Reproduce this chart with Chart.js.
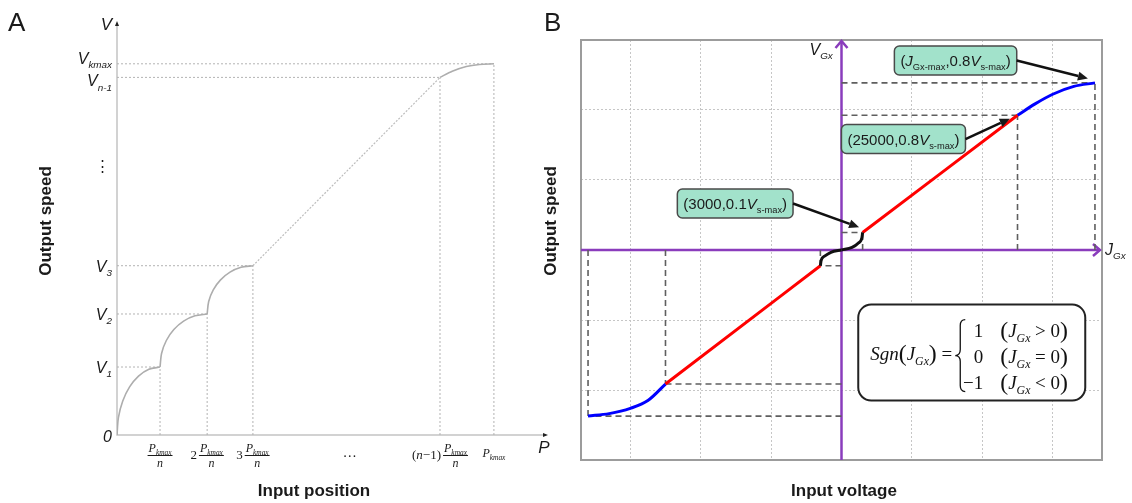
<!DOCTYPE html>
<html>
<head>
<meta charset="utf-8">
<script src="https://cdn.jsdelivr.net/npm/chart.js@4.4.1/dist/chart.umd.min.js"></script>
<style>
  body { margin: 0; background: #fff; width: 1132px; height: 503px; overflow: hidden; position: relative; }
  canvas { position: absolute; top: 0; }
  #chartA { left: 0; }
  #chartB { left: 530px; }
</style>
</head>
<body>
<canvas id="chartA" width="570" height="503"></canvas>
<canvas id="chartB" width="602" height="503"></canvas>
<script>
// ---- Panel A: x in units of P_kmax/n, y in units of V1 ----
const posTicks = [0.95, 1.99, 3, 7.13, 8.32];
const posPrefix = ['', '2', '3', '(n−1)', ''];
const speedTicks = [1, 1.78, 2.49, 5.26, 5.46];
const speedSubs = ['1', '2', '3', 'n-1', 'kmax'];
const arc1X = [0, 0.032, 0.127, 0.278, 0.475, 0.704, 0.95];
const arc1Y = [0, 0.259, 0.5, 0.707, 0.866, 0.966, 1];
const arc2X = [0.95, 0.985, 1.089, 1.255, 1.47, 1.721, 1.99];
const arc2Y = [1, 1.202, 1.39, 1.551, 1.675, 1.753, 1.78];
const arc3X = [1.99, 2.024, 2.125, 2.286, 2.495, 2.738, 3];
const arc3Y = [1.78, 1.964, 2.135, 2.282, 2.395, 2.466, 2.49];
const rampX = [3, 7.13];
const rampY = [2.49, 5.26];
const topArcX = [7.13, 7.4, 7.71, 8.0, 8.32];
const topArcY = [5.26, 5.35, 5.42, 5.45, 5.46];

// ---- Panel B: x = input voltage J_Gx, y = output speed (fraction of V_s-max) ----
const voltGrid = [-30000, -20000, -10000, 0, 10000, 20000, 30000];
const speedGrid = [-0.8, -0.4, 0, 0.4, 0.8];
const negBlueX = [-36000, -33000, -30000, -27500, -25000];
const negBlueY = [-0.949, -0.935, -0.905, -0.86, -0.766];
const negRedX = [-25000, -3000];
const negRedY = [-0.766, -0.09];
const negBlackX = [-3000, -2900, -2400, -1500, 0];
const negBlackY = [-0.09, -0.06, -0.035, -0.013, 0];
const posBlackX = [0, 1500, 2400, 2900, 3000];
const posBlackY = [0, 0.015, 0.04, 0.07, 0.1];
const posRedX = [3000, 25000];
const posRedY = [0.1, 0.77];
const posBlueX = [25000, 27500, 30000, 33000, 36000];
const posBlueY = [0.77, 0.835, 0.89, 0.935, 0.955];
const guideVolt = [-36000, -25000, -3000, 3000, 25000, 36000];
const guideSpeed = [-0.949, -0.766, -0.09, 0.1, 0.77, 0.955];

const SANS = '"Liberation Sans", Arial, sans-serif';
const SERIF = '"Liberation Serif", "Times New Roman", serif';
const PURPLE = '#8a3cbc';

const pts = (xs, ys) => xs.map((v, i) => ({ x: v, y: ys[i] }));

// kind flags: i = italic, s = subscript, b = big
function richFont(kind, size, family) {
  let s = size;
  if (kind.includes('s')) s = size * 0.62;
  if (kind.includes('b')) s = size * 1.25;
  return (kind.includes('i') ? 'italic ' : '') + s.toFixed(1) + 'px ' + family;
}
function richWidth(ctx, parts, size, family) {
  let w = 0;
  parts.forEach(([t, k]) => { ctx.font = richFont(k, size, family); w += ctx.measureText(t).width; });
  return w;
}
function drawRich(ctx, parts, x, y, size, family, align) {
  const w = richWidth(ctx, parts, size, family);
  let cx = align === 'right' ? x - w : align === 'center' ? x - w / 2 : x;
  ctx.textAlign = 'left';
  ctx.textBaseline = 'alphabetic';
  parts.forEach(([t, k]) => {
    ctx.font = richFont(k, size, family);
    ctx.fillText(t, cx, k.includes('s') ? y + size * 0.28 : (k.includes('b') ? y + size * 0.08 : y));
    cx += ctx.measureText(t).width;
  });
  return w;
}
function drawTitle(ctx, text, x, y, rotate) {
  ctx.save();
  ctx.translate(x, y);
  if (rotate) ctx.rotate(-Math.PI / 2);
  ctx.font = 'bold 17px ' + SANS;
  ctx.fillStyle = '#1a1a1a';
  ctx.textAlign = 'center';
  ctx.textBaseline = 'middle';
  ctx.fillText(text, 0, 0);
  ctx.restore();
}

// x label of panel A: optional prefix, then P_kmax / n
function drawPosLabel(ctx, cx, prefix, frac) {
  const num = [['P', 'i'], ['kmax', 'is']];
  const numW = richWidth(ctx, num, 12, SERIF);
  if (!frac) { drawRich(ctx, num, cx, 457, 12, SERIF, 'center'); return; }
  const preParts = prefix === '(n−1)' ? [['(', 'n'], ['n', 'i'], ['−1', 'n'], [')', 'n']] : [[prefix, 'n']];
  const preW = prefix ? richWidth(ctx, preParts, 13, SERIF) + 2 : 0;
  const total = preW + numW + 2;
  const left = cx - total / 2;
  if (prefix) drawRich(ctx, preParts, left, 459, 13, SERIF, 'left');
  const fl = left + preW;
  drawRich(ctx, num, fl + 1, 452, 12, SERIF, 'left');
  ctx.fillRect(fl, 455, numW + 2, 1);
  ctx.font = 'italic 12px ' + SERIF;
  ctx.textAlign = 'center';
  ctx.fillText('n', fl + (numW + 2) / 2, 467);
}

const panelADecor = {
  id: 'panelADecor',
  beforeDatasetsDraw(chart) {
    const { ctx, chartArea: a } = chart;
    ctx.save();
    ctx.strokeStyle = '#c4c4c4';
    ctx.lineWidth = 1.5;
    ctx.beginPath();
    ctx.moveTo(a.left, a.top);
    ctx.lineTo(a.left, a.bottom);
    ctx.lineTo(a.right, a.bottom);
    ctx.stroke();
    ctx.fillStyle = '#222';
    ctx.beginPath(); ctx.moveTo(a.left, a.top - 2); ctx.lineTo(a.left - 2, a.top + 3); ctx.lineTo(a.left + 2, a.top + 3); ctx.fill();
    ctx.beginPath(); ctx.moveTo(a.right + 2, a.bottom); ctx.lineTo(a.right - 3, a.bottom - 2); ctx.lineTo(a.right - 3, a.bottom + 2); ctx.fill();
    ctx.restore();
  },
  afterDraw(chart) {
    const { ctx, chartArea: a, scales: { x, y } } = chart;
    ctx.save();
    ctx.fillStyle = '#1a1a1a';
    // y tick labels (V_kmax and V_n-1 are nudged apart as in the figure)
    const nudge = [0, 0, 0, 3, -6];
    speedTicks.forEach((v, i) => {
      drawRich(ctx, [['V', 'i'], [speedSubs[i], 'is']], 112, y.getPixelForValue(v) + 6 + nudge[i], 16, SANS, 'right');
    });
    drawRich(ctx, [['0', 'i']], 112, a.bottom + 7, 16, SANS, 'right');
    drawRich(ctx, [['V', 'i']], 112, a.top + 7, 17, SANS, 'right');
    ctx.font = '15px ' + SANS;
    ctx.textAlign = 'center';
    ctx.fillText('⋮', 102, y.getPixelForValue(3.97) + 6);
    // x tick labels
    posTicks.forEach((v, i) => drawPosLabel(ctx, x.getPixelForValue(v), posPrefix[i], i < 4));
    ctx.font = '14px ' + SERIF;
    ctx.textAlign = 'center';
    ctx.fillText('…', x.getPixelForValue(5.14), 457);
    drawRich(ctx, [['P', 'i']], a.right - 2, a.bottom + 18, 17, SANS, 'center');
    // titles
    ctx.font = '26px ' + SANS;
    ctx.textAlign = 'left';
    ctx.fillText('A', 8, 31);
    drawTitle(ctx, 'Output speed', 46, 221, true);
    drawTitle(ctx, 'Input position', 314, 491, false);
    ctx.restore();
  }
};

const curveA = (xs, ys) => ({ data: pts(xs, ys), showLine: true, pointRadius: 0, borderColor: '#adadad', borderWidth: 1.6, tension: 0.3 });
const guidesA = [];
posTicks.forEach((p, i) => {
  const s = speedTicks[i];
  guidesA.push({ data: [{ x: 0, y: s }, { x: p, y: s }] });
  guidesA.push({ data: [{ x: p, y: 0 }, { x: p, y: s }] });
});

new Chart(document.getElementById('chartA'), {
  type: 'scatter',
  data: {
    datasets: [
      curveA(arc1X, arc1Y), curveA(arc2X, arc2Y), curveA(arc3X, arc3Y), curveA(topArcX, topArcY),
      { data: pts(rampX, rampY), showLine: true, pointRadius: 0, borderColor: '#bdbdbd', borderWidth: 1.2, borderDash: [2, 1.5] },
      ...guidesA.map(g => ({ ...g, showLine: true, pointRadius: 0, borderColor: '#b3b3b3', borderWidth: 1, borderDash: [2, 2] }))
    ]
  },
  options: {
    responsive: false,
    animation: false,
    events: [],
    layout: { padding: { left: 117, right: 24, top: 23, bottom: 68 } },
    plugins: { legend: { display: false }, tooltip: { enabled: false } },
    scales: {
      x: { type: 'linear', min: 0, max: 9.47, display: false },
      y: { type: 'linear', min: 0, max: 6.06, display: false }
    }
  },
  plugins: [panelADecor]
});

// ---- Panel B ----
const callouts = [
  { parts: [['(', 'n'], ['J', 'i'], ['Gx-max', 's'], [',0.8', 'n'], ['V', 'i'], ['s-max', 's'], [')', 'n']], cx: 16200, cy: 1.083, tipX: 35000, tipY: 0.98 },
  { parts: [['(25000,0.8', 'n'], ['V', 'i'], ['s-max', 's'], [')', 'n']], cx: 8800, cy: 0.634, tipX: 23900, tipY: 0.75 },
  { parts: [['(3000,0.1', 'n'], ['V', 'i'], ['s-max', 's'], [')', 'n']], cx: -15100, cy: 0.266, tipX: 2500, tipY: 0.13 }
];
const formulaRows = [['1', '>'], ['0', '='], ['−1', '<']];

function roundRect(ctx, l, t, w, h, r) {
  ctx.beginPath();
  ctx.moveTo(l + r, t);
  ctx.arcTo(l + w, t, l + w, t + h, r);
  ctx.arcTo(l + w, t + h, l, t + h, r);
  ctx.arcTo(l, t + h, l, t, r);
  ctx.arcTo(l, t, l + w, t, r);
  ctx.closePath();
}
function drawArrow(ctx, x1, y1, x2, y2) {
  const ang = Math.atan2(y2 - y1, x2 - x1);
  const L = 10, H = 4.5;
  const bx = x2 - L * Math.cos(ang), by = y2 - L * Math.sin(ang);
  ctx.beginPath(); ctx.moveTo(x1, y1); ctx.lineTo(bx, by); ctx.stroke();
  ctx.beginPath();
  ctx.moveTo(x2, y2);
  ctx.lineTo(bx + H * Math.sin(ang), by - H * Math.cos(ang));
  ctx.lineTo(bx - H * Math.sin(ang), by + H * Math.cos(ang));
  ctx.closePath();
  ctx.fill();
}
function drawBrace(ctx, x, yTop, yBot) {
  const ym = (yTop + yBot) / 2, w = 5;
  ctx.beginPath();
  ctx.moveTo(x + w, yTop);
  ctx.quadraticCurveTo(x, yTop, x, yTop + 6);
  ctx.lineTo(x, ym - 6);
  ctx.quadraticCurveTo(x, ym, x - w, ym);
  ctx.quadraticCurveTo(x, ym, x, ym + 6);
  ctx.lineTo(x, yBot - 6);
  ctx.quadraticCurveTo(x, yBot, x + w, yBot);
  ctx.stroke();
}

const panelBDecor = {
  id: 'panelBDecor',
  beforeDatasetsDraw(chart) {
    const { ctx, chartArea: a, scales: { x, y } } = chart;
    const x0 = x.getPixelForValue(0), y0 = y.getPixelForValue(0);
    ctx.save();
    ctx.strokeStyle = '#9c9c9c';
    ctx.lineWidth = 2;
    ctx.strokeRect(a.left, a.top, a.right - a.left, a.bottom - a.top);
    ctx.strokeStyle = PURPLE;
    ctx.lineWidth = 2.5;
    ctx.beginPath(); ctx.moveTo(x0, a.bottom); ctx.lineTo(x0, a.top + 1); ctx.stroke();
    ctx.beginPath(); ctx.moveTo(a.left, y0); ctx.lineTo(a.right - 2, y0); ctx.stroke();
    ctx.beginPath(); ctx.moveTo(x0 - 6, a.top + 8); ctx.lineTo(x0, a.top + 1); ctx.lineTo(x0 + 6, a.top + 8); ctx.stroke();
    ctx.beginPath(); ctx.moveTo(a.right - 9, y0 - 6); ctx.lineTo(a.right - 2, y0); ctx.lineTo(a.right - 9, y0 + 6); ctx.stroke();
    ctx.restore();
  },
  afterDraw(chart) {
    const { ctx, chartArea: a, scales: { x, y } } = chart;
    const x0 = x.getPixelForValue(0), y0 = y.getPixelForValue(0);
    ctx.save();
    ctx.fillStyle = '#1a1a1a';
    drawRich(ctx, [['V', 'i'], ['Gx', 'is']], x0 - 32, a.top + 15, 16, SANS, 'left');
    drawRich(ctx, [['J', 'i'], ['Gx', 'is']], a.right + 3, y0 + 5, 16, SANS, 'left');

    // callout boxes with arrows
    callouts.forEach(c => {
      const cx = x.getPixelForValue(c.cx), cy = y.getPixelForValue(c.cy);
      const w = richWidth(ctx, c.parts, 15, SANS) + 12, h = 29;
      const l = cx - w / 2, t = cy - h / 2;
      roundRect(ctx, l, t, w, h, 5);
      ctx.fillStyle = '#a2e2cb';
      ctx.fill();
      ctx.strokeStyle = '#4a4a4a';
      ctx.lineWidth = 1.5;
      ctx.stroke();
      ctx.fillStyle = '#1a1a1a';
      drawRich(ctx, c.parts, cx, cy + 5.5, 15, SANS, 'center');
      ctx.strokeStyle = '#111';
      ctx.lineWidth = 2.5;
      drawArrow(ctx, l + w, cy, x.getPixelForValue(c.tipX), y.getPixelForValue(c.tipY));
    });

    // Sgn formula box
    const bw = 227, bh = 96;
    const bcx = x.getPixelForValue(18500), bcy = y.getPixelForValue(-0.586);
    const bl = bcx - bw / 2, bt = bcy - bh / 2;
    roundRect(ctx, bl, bt, bw, bh, 13);
    ctx.fillStyle = '#fff';
    ctx.fill();
    ctx.strokeStyle = '#222';
    ctx.lineWidth = 2;
    ctx.stroke();
    ctx.fillStyle = '#111';
    const mid = bcy + 3;
    const lw = drawRich(ctx, [['Sgn', 'i'], ['(', 'b'], ['J', 'i'], ['Gx', 'is'], [')', 'b'], [' =', 'n']], bl + 12, mid + 4, 19, SERIF, 'left');
    const xb = bl + 12 + lw + 8;
    ctx.strokeStyle = '#111';
    ctx.lineWidth = 1.3;
    drawBrace(ctx, xb, mid - 36, mid + 36);
    formulaRows.forEach(([val, rel], i) => {
      const by = mid + (i - 1) * 26 + 7;
      drawRich(ctx, [[val, 'n']], xb + 23, by, 19, SERIF, 'right');
      drawRich(ctx, [['(', 'b'], ['J', 'i'], ['Gx', 'is'], [' ' + rel + ' 0', 'n'], [')', 'b']], xb + 40, by, 19, SERIF, 'left');
    });

    // titles
    ctx.fillStyle = '#1a1a1a';
    ctx.font = '26px ' + SANS;
    ctx.textAlign = 'left';
    ctx.textBaseline = 'alphabetic';
    ctx.fillText('B', 14, 31);
    drawTitle(ctx, 'Output speed', 21, 221, true);
    drawTitle(ctx, 'Input voltage', 314, 491, false);
    ctx.restore();
  }
};

const curveB = (xs, ys, color) => ({ data: pts(xs, ys), showLine: true, pointRadius: 0, borderColor: color, borderWidth: 3, cubicInterpolationMode: 'monotone' });
const guidesB = [];
guideVolt.forEach((v, i) => {
  const s = guideSpeed[i];
  guidesB.push({ data: [{ x: 0, y: s }, { x: v, y: s }] });
  guidesB.push({ data: [{ x: v, y: 0 }, { x: v, y: s }] });
});

new Chart(document.getElementById('chartB'), {
  type: 'scatter',
  data: {
    datasets: [
      curveB(negBlackX, negBlackY, '#111'), curveB(posBlackX, posBlackY, '#111'),
      curveB(negRedX, negRedY, '#ff0000'), curveB(posRedX, posRedY, '#ff0000'),
      curveB(negBlueX, negBlueY, '#0000ff'), curveB(posBlueX, posBlueY, '#0000ff'),
      ...guidesB.map(g => ({ ...g, showLine: true, pointRadius: 0, borderColor: '#5f5f5f', borderWidth: 1.6, borderDash: [6, 4] }))
    ]
  },
  options: {
    responsive: false,
    animation: false,
    events: [],
    layout: { padding: { left: 51, right: 30, top: 40, bottom: 43 } },
    plugins: { legend: { display: false }, tooltip: { enabled: false } },
    scales: {
      x: {
        type: 'linear', min: -37000, max: 37000,
        afterBuildTicks: s => { s.ticks = voltGrid.map(v => ({ value: v })); },
        ticks: { display: false },
        grid: { color: '#c6c6c6', lineWidth: 1, drawTicks: false },
        border: { display: false, dash: [2, 2] }
      },
      y: {
        type: 'linear', min: -1.2, max: 1.2,
        afterBuildTicks: s => { s.ticks = speedGrid.map(v => ({ value: v })); },
        ticks: { display: false },
        grid: { color: '#c6c6c6', lineWidth: 1, drawTicks: false },
        border: { display: false, dash: [2, 2] }
      }
    }
  },
  plugins: [panelBDecor]
});
</script>
</body>
</html>
